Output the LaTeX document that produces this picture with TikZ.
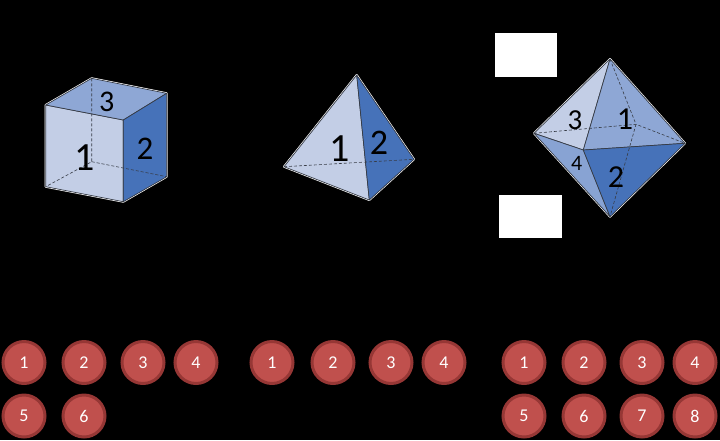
\documentclass[tikz,border=0pt]{standalone}
\usepackage{fontspec}
\setmainfont{Carlito}
\usetikzlibrary{positioning}
\definecolor{facelight}{RGB}{195,206,230}
\definecolor{facemid}{RGB}{142,167,213}
\definecolor{facedark}{RGB}{70,114,185}
\definecolor{edgegray}{RGB}{55,60,70}
\definecolor{dotred}{RGB}{192,80,77}
\definecolor{dotrim}{RGB}{150,55,53}

\begin{document}
\begin{tikzpicture}[x=1pt,y=-1pt,node distance=60pt,on grid,
   face/.style={draw=edgegray,line width=0.7pt,line join=round},
   hidden/.style={edgegray,line width=0.6pt,dash pattern=on 3pt off 2pt},
   halo/.style={draw=white,line width=2pt,line join=round},
   num/.style={font=\fontsize{#1}{#1}\selectfont,inner sep=0pt},
   dot/.style={circle,fill=dotred,draw=dotrim,line width=3pt,minimum size=42pt,
     inner sep=0pt,text=white,font=\fontsize{18}{18}\selectfont},
   blank/.style={fill=white,draw=none,inner sep=0pt}]
   \fill[black] (0,0) rectangle (720,440);
   % cube
   \coordinate (ftl) at (45.7,105);  \coordinate (ftr) at (123.3,120);
   \coordinate (fbr) at (123.3,201.7); \coordinate (fbl) at (45.7,186.7);
   \coordinate (btl) at (91.7,78.3); \coordinate (btr) at (166.7,93.3);
   \coordinate (bbr) at (166.7,176.7); \coordinate (bbl) at (91.7,161.7);
   \path[halo] (ftl) -- (btl) -- (btr) -- (bbr) -- (fbr) -- (fbl) -- cycle;
   \filldraw[face,fill=facelight] (ftl) -- (ftr) -- (fbr) -- (fbl) -- cycle;
   \filldraw[face,fill=facemid] (ftl) -- (btl) -- (btr) -- (ftr) -- cycle;
   \filldraw[face,fill=facedark] (ftr) -- (btr) -- (bbr) -- (fbr) -- cycle;
   \draw[hidden] (btl) -- (bbl) -- (fbl) (bbl) -- (bbr);
   \node[num=30] (cube3) at (106.7,101.7) {3};
   \node[num=33] (cube2) at (145,148.3) {2};
   \node[num=40] (cube1) at (85,158) {1};
   % tetrahedron
   \coordinate (tap) at (356.7,75); \coordinate (tle) at (284,166.7);
   \coordinate (tbo) at (369.3,200); \coordinate (tri) at (414,159.3);
   \path[halo] (tap) -- (tri) -- (tbo) -- (tle) -- cycle;
   \filldraw[face,fill=facelight] (tap) -- (tle) -- (tbo) -- cycle;
   \filldraw[face,fill=facedark] (tap) -- (tbo) -- (tri) -- cycle;
   \draw[hidden] (tle) -- (tri);
   \node[num=40] (tet1) at (340,148.3) {1};
   \node[num=36] (tet2) at (379,143.3) {2};
   % octahedron
   \coordinate (otp) at (610,59); \coordinate (olf) at (534,133.3);
   \coordinate (ofr) at (583.3,150); \coordinate (ori) at (685,143.3);
   \coordinate (obt) at (610,216.7); \coordinate (obk) at (636,124.3);
   \path[halo] (otp) -- (ori) -- (obt) -- (olf) -- cycle;
   \filldraw[face,fill=facelight] (otp) -- (olf) -- (ofr) -- cycle;
   \filldraw[face,fill=facemid] (otp) -- (ofr) -- (ori) -- cycle;
   \filldraw[face,fill=facemid!92!facedark] (olf) -- (ofr) -- (obt) -- cycle;
   \filldraw[face,fill=facedark] (ofr) -- (ori) -- (obt) -- cycle;
   \draw[hidden] (otp) -- (obk) -- (obt) (olf) -- (obk) -- (ori);
   \node[num=29] (oct3) at (575,120) {3};
   \node[num=32] (oct1) at (625,119) {1};
   \node[num=22] (oct4) at (576.7,163.3) {4};
   \node[num=32] (oct2) at (616,176.7) {2};
   \node[blank,minimum width=62pt,minimum height=44pt] (box1) at (526.2,55.3) {};
   \node[blank,minimum width=63pt,minimum height=43pt] (box2) at (530,216.7) {};
   % dice
   \node[dot] (a1) at (24,362.5) {1};
   \node[dot] (a2) [right=of a1] {2};
   \node[dot] (a3) [right=59pt of a2] {3};
   \node[dot] (a4) [right=53pt of a3] {4};
   \node[dot] (a5) [below=53.5pt of a1] {5};
   \node[dot] (a6) [right=of a5] {6};
   \node[dot] (b1) at (272,362.5) {1};
   \node[dot] (b2) [right=61pt of b1] {2};
   \node[dot] (b3) [right=58pt of b2] {3};
   \node[dot] (b4) [right=53pt of b3] {4};
   \node[dot] (c1) at (524,362.5) {1};
   \node[dot] (c2) [right=of c1] {2};
   \node[dot] (c3) [right=58pt of c2] {3};
   \node[dot] (c4) [right=53pt of c3] {4};
   \node[dot] (c5) [below=53.5pt of c1] {5};
   \node[dot] (c6) [right=of c5] {6};
   \node[dot] (c7) [right=58pt of c6] {7};
   \node[dot] (c8) [right=53pt of c7] {8};
\end{tikzpicture}
\end{document}
